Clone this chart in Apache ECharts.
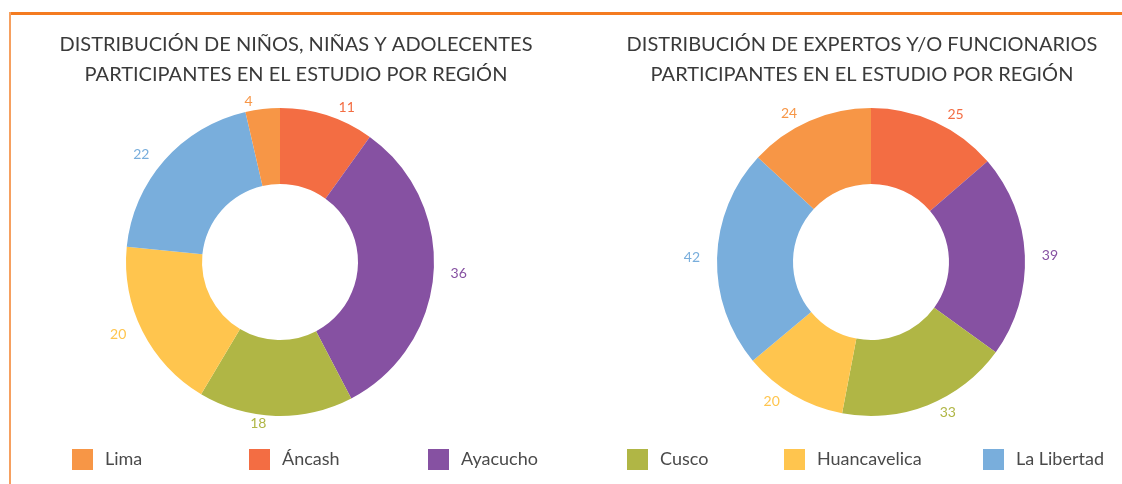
<!DOCTYPE html>
<html>
<head>
<meta charset="utf-8">
<script src="https://cdn.jsdelivr.net/npm/echarts@6/dist/echarts.min.js"></script>
<style>
  html, body { margin: 0; padding: 0; background: #fff; }
  #chart { width: 1122px; height: 484px; }
</style>
</head>
<body>
<div id="chart"></div>
<script>
// legend order
var regions = ['Lima', 'Áncash', 'Ayacucho', 'Cusco', 'Huancavelica', 'La Libertad'];
// pie order, clockwise from 12 o'clock
var pieOrder = ['Áncash', 'Ayacucho', 'Cusco', 'Huancavelica', 'La Libertad', 'Lima'];
var ninosValues = [11, 36, 18, 20, 22, 4];
var expertosValues = [25, 39, 33, 20, 42, 24];
var titleNinos = 'DISTRIBUCIÓN DE NIÑOS, NIÑAS Y ADOLECENTES\nPARTICIPANTES EN EL ESTUDIO POR REGIÓN';
var titleExpertos = 'DISTRIBUCIÓN DE EXPERTOS Y/O FUNCIONARIOS\nPARTICIPANTES EN EL ESTUDIO POR REGIÓN';

var colors = {
  'Lima': '#f79646',
  'Áncash': '#f36d43',
  'Ayacucho': '#8651a2',
  'Cusco': '#b0b645',
  'Huancavelica': '#ffc54e',
  'La Libertad': '#79aedc'
};
var legendLeft = [67, 244, 423, 622, 779, 978];
var font = 'Lato, "Open Sans", sans-serif';

function buildData (values) {
  return pieOrder.map(function (name, i) {
    return {
      name: name,
      value: values[i],
      itemStyle: { color: colors[name] },
      label: { color: colors[name] }
    };
  });
}

function pieSeries (name, cx, values) {
  return {
    name: name,
    type: 'pie',
    center: [cx, 262],
    radius: [78, 154],
    startAngle: 90,
    clockwise: true,
    avoidLabelOverlap: false,
    label: {
      show: true,
      position: 'outside',
      fontFamily: font,
      fontSize: 14,
      formatter: '{c}'
    },
    labelLine: { show: false, length: 8, length2: 4 },
    emphasis: { disabled: true },
    data: buildData(values)
  };
}

var chart = echarts.init(document.getElementById('chart'));
chart.setOption({
  animation: false,
  color: regions.map(function (r) { return colors[r]; }),
  title: [
    {
      text: titleNinos,
      left: 291, top: 25, textAlign: 'center',
      textStyle: { fontFamily: font, fontSize: 20, fontWeight: 'normal', color: '#3a3a3a', lineHeight: 30 }
    },
    {
      text: titleExpertos,
      left: 857, top: 25, textAlign: 'center',
      textStyle: { fontFamily: font, fontSize: 20, fontWeight: 'normal', color: '#3a3a3a', lineHeight: 30 }
    }
  ],
  legend: regions.map(function (r, i) {
    return {
      data: [r],
      left: legendLeft[i],
      top: 444,
      icon: 'rect',
      itemWidth: 21,
      itemHeight: 21,
      selectedMode: false,
      textStyle: { fontFamily: font, fontSize: 18, color: '#4a4a4a', padding: [0, 0, 0, 7] }
    };
  }),
  graphic: [
    { type: 'rect', shape: { x: 9, y: 12, width: 1113, height: 3 }, style: { fill: '#f47b20' }, silent: true },
    { type: 'rect', shape: { x: 9, y: 12, width: 2, height: 472 }, style: { fill: '#f6a060' }, silent: true }
  ],
  series: [
    pieSeries('Niños', 280, ninosValues),
    pieSeries('Expertos', 871, expertosValues)
  ]
});
</script>
</body>
</html>
